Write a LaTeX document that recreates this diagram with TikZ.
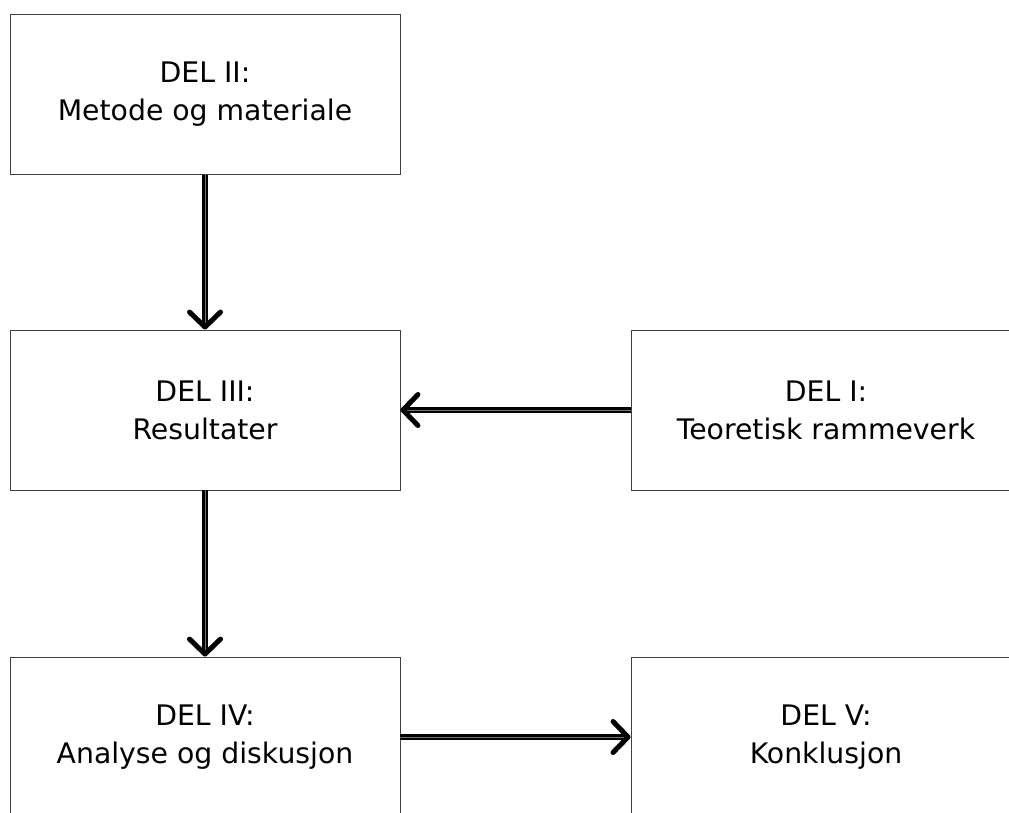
\documentclass[tikz,border=0pt]{standalone}
\usepackage{fontspec}
\setmainfont{DejaVu Sans}
\usetikzlibrary{arrows.meta}
\begin{document}
\begin{tikzpicture}[x=1pt,y=-1pt,
  delbox/.style={draw=black!75, line width=0.9pt, fill=white, minimum width=390pt,
    minimum height=160pt, align=center, font=\fontsize{28.3}{38}\selectfont, inner sep=0pt},
  flow/.style={line width=2.6pt, draw=black, double=black!55, double distance=0.7pt,
    -{Straight Barb[length=15pt, width=31pt, line width=5pt, line cap=round, line join=round]}}
]
  \useasboundingbox (0,0) rectangle (1009,813);
  \clip (0,0) rectangle (1009,813);
  \fill[white] (0,0) rectangle (1009,813);

  % boxes
  \node[delbox] (d2) at (205,94.5) {DEL II:\\Metode og materiale};
  \node[delbox] (d3) at (205,410) {DEL III:\\Resultater};
  \node[delbox] (d1) at (826,410) {DEL I:\\Teoretisk rammeverk};
  \node[delbox] (d4) at (205,737) {DEL IV:\\Analyse og diskusjon};
  \node[delbox] (d5) at (826,737) {DEL V:\\Konklusjon};

  % connectors
  \draw[flow] (d2.south) -- (d3.north);
  \draw[flow] (d1.west) -- (d3.east);
  \draw[flow] (d3.south) -- (d4.north);
  \draw[flow] (d4.east) -- (d5.west);
\end{tikzpicture}
\end{document}
